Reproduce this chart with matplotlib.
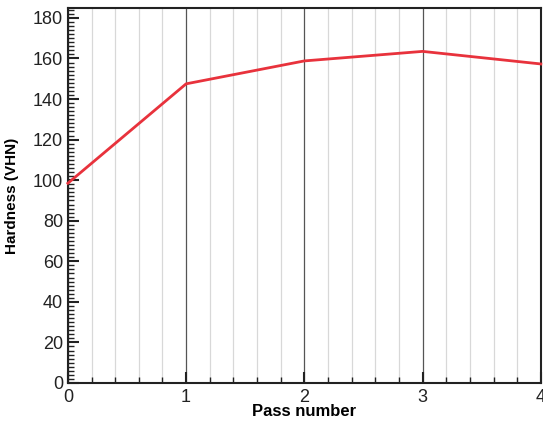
import matplotlib
matplotlib.use('Agg')
import numpy as np
from matplotlib import pyplot as plt
from matplotlib.ticker import MultipleLocator

passes = [0, 1, 2, 3, 4]
hardness = [98.5, 147.5, 158.8, 163.5, 157.3]

plt.rcParams['font.family'] = ['Liberation Sans', 'DejaVu Sans']

fig = plt.figure(figsize=(5.43, 4.23), dpi=100)
ax = fig.add_axes([0.125, 0.0946, 0.871, 0.887])

ax.plot(passes, hardness, color='#e8323c', lw=2, zorder=3, clip_on=False)

ax.set_xlim(0, 4)
ax.set_ylim(0, 185)
ax.xaxis.set_major_locator(MultipleLocator(1))
ax.xaxis.set_minor_locator(MultipleLocator(0.2))
ax.yaxis.set_major_locator(MultipleLocator(20))
ax.yaxis.set_minor_locator(MultipleLocator(2))

# vertical grid, dark on majors, light on minors
ax.grid(which='major', axis='x', color='#555555', lw=0.9)
ax.grid(which='minor', axis='x', color='#d8d8d8', lw=0.9)

ax.tick_params(which='major', direction='in', length=8, width=1.5, labelsize=13, colors='#222222')
ax.tick_params(which='minor', direction='in', length=4, width=1, colors='#222222')
ax.tick_params(axis='x', pad=4)
for s in ax.spines.values():
    s.set_linewidth(1.5)
    s.set_color('#222222')

ax.set_xlabel('Pass number', fontsize=12, fontweight='bold', labelpad=-1)
ax.set_ylabel('Hardness (VHN)', fontsize=11, fontweight='bold', labelpad=10)

plt.savefig('out.png', dpi=100)
